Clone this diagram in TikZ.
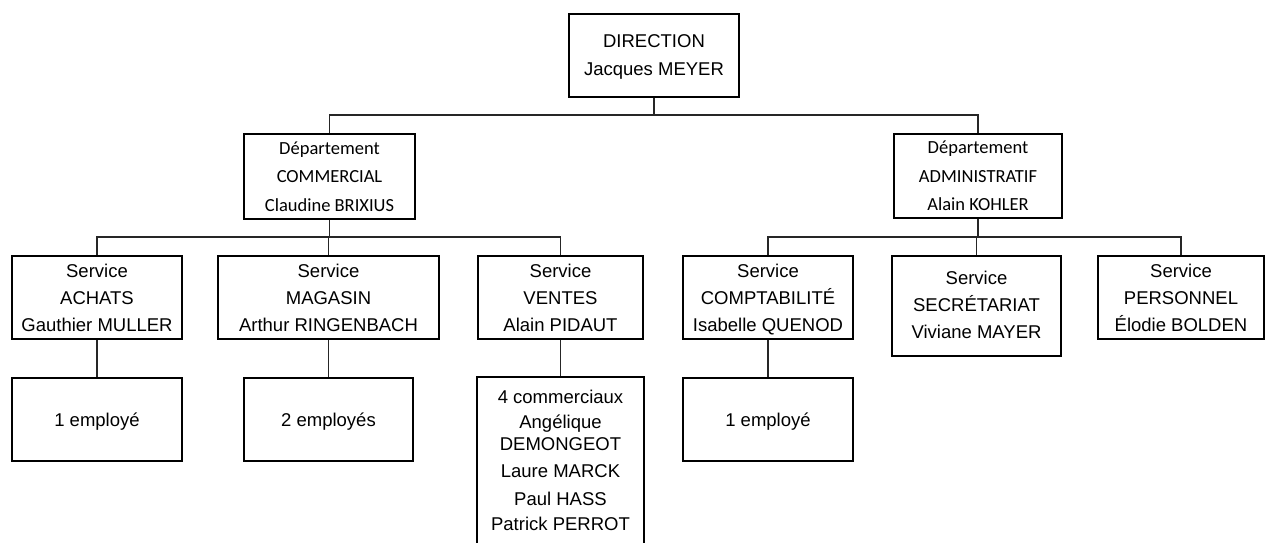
\documentclass[tikz,border=0pt]{standalone}
\usepackage{fontspec}
\setmainfont{Liberation Sans}
\newfontfamily\deptfont{Carlito}
\usetikzlibrary{positioning}

\begin{document}
\begin{tikzpicture}[
  x=1pt, y=-1pt,
  font=\fontsize{18.5}{27}\selectfont,
  box/.style={rectangle, draw, line width=2pt, minimum width=170pt, minimum height=83pt, align=center, inner sep=2pt, text depth=0pt},
  dept/.style={box, font=\deptfont\fontsize{18.5}{28.5}\selectfont},
  link/.style={line width=1.6pt, draw=black!85},
]
\useasboundingbox (0,0) rectangle (1268,542);
\clip (0,0) rectangle (1268,542);

\node[box, font=\fontsize{18.5}{28}\selectfont] (dir) at (654,55.5) {DIRECTION\\Jacques MEYER};

\node[dept, minimum width=171pt, minimum height=85pt] (comm) at (329.5,176.5) {Département\\COMMERCIAL\\Claudine BRIXIUS};
\node[dept, minimum width=168pt, minimum height=84pt] (admin) at (978,176) {Département\\ADMINISTRATIF\\Alain KOHLER};

\node[box] (achats) at (97,297.5) {Service\\ACHATS\\Gauthier MULLER};
\node[box, minimum width=221pt, right=34pt of achats] (magasin) {Service\\MAGASIN\\Arthur RINGENBACH};
\node[box, minimum width=165pt, right=37pt of magasin] (ventes) {Service\\VENTES\\Alain PIDAUT};
\node[box, right=38pt of ventes] (compta) {Service\\COMPTABILITÉ\\Isabelle QUENOD};
\node[box, minimum width=169pt, minimum height=100pt, text depth=3pt, anchor=north west] (secret) at ([xshift=37pt]compta.north east) {Service\\SECRÉTARIAT\\Viviane MAYER};
\node[box, minimum width=166pt, anchor=north west] (perso) at ([xshift=35pt]secret.north east) {Service\\PERSONNEL\\Élodie BOLDEN};

\node[box, below=37pt of achats] (emp1) {1 employé};
\node[box, minimum width=169pt, below=37pt of magasin] (emp2) {2 employés};
\node[box, minimum width=167pt, minimum height=0pt, inner ysep=13pt, text depth=12pt, font=\fontsize{18.5}{20}\selectfont, below=36pt of ventes] (vend) {4 commerciaux\\[5pt]Angélique\\[2pt]DEMONGEOT\\[7pt]Laure MARCK\\[8pt]Paul HASS\\[5pt]Patrick PERROT};
\node[box, below=37pt of compta] (emp3) {1 employé};

\draw[link] (dir.south) -- ++(0,17) coordinate (dirbar);
\draw[link] (comm.north) |- (dirbar) -| (admin.north);

\draw[link] (comm.south) -- ++(0,17) coordinate (commbar);
\draw[link] (achats.north) |- (commbar) -| (ventes.north);
\draw[link] (magasin.north) -- (magasin.north |- commbar);

\draw[link] (admin.south) -- ++(0,18) coordinate (adminbar);
\draw[link] (compta.north) |- (adminbar) -| (perso.north);
\draw[link] (secret.north) -- (secret.north |- adminbar);

\draw[link] (achats) -- (emp1);
\draw[link] (magasin) -- (emp2);
\draw[link] (ventes) -- (vend);
\draw[link] (compta) -- (emp3);

\end{tikzpicture}
\end{document}
